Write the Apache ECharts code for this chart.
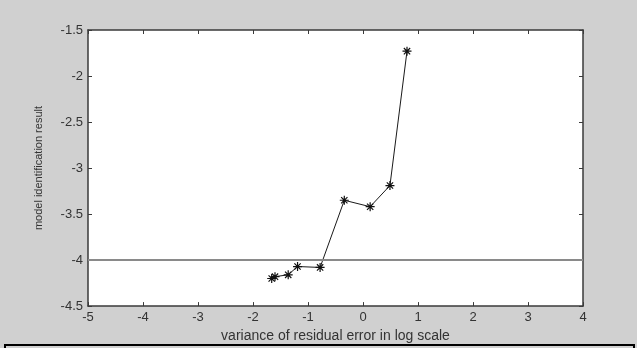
<!DOCTYPE html>
<html>
<head>
<meta charset="utf-8">
<script src="https://cdn.jsdelivr.net/npm/echarts@6/dist/echarts.min.js"></script>
<style>
html,body{margin:0;padding:0;background:#d0d0d0;}
#chart{width:637px;height:348px;}
</style>
</head>
<body>
<div id="chart"></div>
<script>
// Data
const xValues = [-1.66, -1.60, -1.36, -1.19, -0.78, -0.34, 0.13, 0.49, 0.80];
const yValues = [-4.20, -4.18, -4.16, -4.07, -4.08, -3.35, -3.42, -3.19, -1.73];
const thresholdY = -4;
const xRange = [-5, 4];
const yRange = [-4.5, -1.5];
const xTitle = 'variance of residual error in log scale';
const yTitle = 'model identification result';

const points = xValues.map((x, i) => [x, yValues[i]]);
const asterisk = 'path://M5,0L5,10M0,5L10,5M1.5,1.5L8.5,8.5M1.5,8.5L8.5,1.5';
const font = 'Liberation Sans, Arial, sans-serif';
const axisColor = '#3a3a3a';

const chart = echarts.init(document.getElementById('chart'), null, {renderer: 'canvas'});
chart.setOption({
  backgroundColor: '#d0d0d0',
  animation: false,
  grid: {left: 88, right: 54, top: 30, bottom: 39, show: true, backgroundColor: '#ffffff', borderWidth: 0},
  xAxis: [{
    type: 'value', min: xRange[0], max: xRange[1], interval: 1, position: 'bottom',
    name: xTitle, nameLocation: 'middle', nameGap: 16,
    nameTextStyle: {fontFamily: font, fontSize: 14, color: '#333'},
    axisLine: {show: true, onZero: false, lineStyle: {color: axisColor, width: 1.5}},
    axisTick: {show: true, inside: true, length: 4, lineStyle: {color: axisColor}},
    axisLabel: {fontFamily: font, fontSize: 13, color: '#333', margin: 5},
    splitLine: {show: false}
  }, {
    type: 'value', min: xRange[0], max: xRange[1], interval: 1, position: 'top',
    axisLine: {show: true, onZero: false, lineStyle: {color: axisColor, width: 1.5}},
    axisTick: {show: true, inside: true, length: 4, lineStyle: {color: axisColor}},
    axisLabel: {show: false}, splitLine: {show: false}
  }],
  yAxis: [{
    type: 'value', min: yRange[0], max: yRange[1], interval: 0.5, position: 'left',
    name: yTitle, nameLocation: 'middle', nameGap: 44, nameRotate: 90,
    nameTextStyle: {fontFamily: font, fontSize: 11, color: '#333'},
    axisLine: {show: true, onZero: false, lineStyle: {color: axisColor, width: 1.5}},
    axisTick: {show: true, inside: true, length: 4, lineStyle: {color: axisColor}},
    axisLabel: {fontFamily: font, fontSize: 13, color: '#333', margin: 5},
    splitLine: {show: false}
  }, {
    type: 'value', min: yRange[0], max: yRange[1], interval: 0.5, position: 'right',
    axisLine: {show: true, onZero: false, lineStyle: {color: axisColor, width: 1.5}},
    axisTick: {show: true, inside: true, length: 4, lineStyle: {color: axisColor}},
    axisLabel: {show: false}, splitLine: {show: false}
  }],
  series: [{
    type: 'line',
    data: points,
    symbol: asterisk,
    symbolSize: 9,
    showSymbol: true,
    lineStyle: {color: '#1a1a1a', width: 1},
    itemStyle: {color: 'rgba(0,0,0,0)', borderColor: '#111', borderWidth: 1.2},
    markLine: {
      silent: true,
      symbol: ['none', 'none'],
      label: {show: false},
      lineStyle: {color: '#8a8a8a', width: 2, type: 'solid'},
      data: [{yAxis: thresholdY}]
    },
    z: 3
  }],
  graphic: [{
    type: 'polyline',
    shape: {points: [[5, 348], [5, 345], [634, 345], [634, 348]]},
    style: {stroke: '#000', lineWidth: 2, fill: null}
  }]
});
</script>
</body>
</html>
